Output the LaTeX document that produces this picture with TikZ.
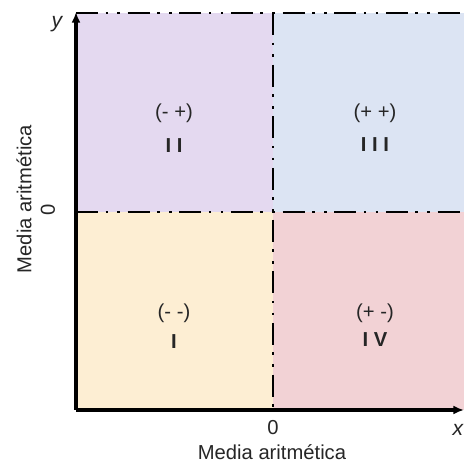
\documentclass[tikz,border=0pt]{standalone}
\usepackage{fontspec}
\setmainfont{Liberation Sans}
\usetikzlibrary{arrows.meta}
\definecolor{quadII}{RGB}{228,217,240}
\definecolor{quadIII}{RGB}{220,228,243}
\definecolor{quadI}{RGB}{253,238,211}
\definecolor{quadIV}{RGB}{242,210,213}
\tikzset{
  axis/.style={line width=1.9pt, -{Latex[length=6pt,width=5pt]}},
  divider/.style={line width=1.7pt, dash pattern=on 12.5pt off 4.3pt on 1.5pt off 5.3pt on 1.5pt off 4.3pt},
  sign/.style={font=\fontsize{11.5}{13}\selectfont, text=black!85},
  roman/.style={font=\fontsize{11.5}{13}\selectfont\bfseries, text=black!85},
  axislabel/.style={font=\fontsize{11.5}{13}\selectfont, text=black!85},
  varlabel/.style={font=\fontsize{12}{14}\selectfont\itshape, text=black!85}
}
\begin{document}
\begin{tikzpicture}[x=0.02cm,y=0.02cm]
\path[use as bounding box] (0,0) rectangle (464,467);
\fill[white] (0,0) rectangle (464,467);

\coordinate (origin) at (76,57);
\coordinate (ytop) at (76,455);
\coordinate (xend) at (464,57);
\coordinate (midleft) at (76,255);
\coordinate (midright) at (464,255);
\coordinate (center) at (273,255);
\coordinate (topleft) at (76,454);
\coordinate (topmid) at (273,454);
\coordinate (topright) at (464,454);
\coordinate (botmid) at (273,57);

\fill[quadII] (midleft) rectangle (topmid);
\fill[quadIII] (center) rectangle (topright);
\fill[quadI] (origin) rectangle (center);
\fill[quadIV] (botmid) rectangle (midright);

\draw[divider] (topleft) -- (topright);
\draw[divider] (midleft) -- (midright);
\draw[divider] (topmid) -- (botmid);

\draw[axis] (origin) -- (ytop);
\draw[axis] (origin) -- (xend);

\node[sign] (signII) at (174,354) {(- +)};
\node[roman] (numII) at (174,321) {I I};
\node[sign] (signIII) at (375,354) {(+ +)};
\node[roman] (numIII) at (375,322) {I I I};
\node[sign] (signI) at (174,154) {(- -)};
\node[roman] (numI) at (174,125) {I};
\node[sign] (signIV) at (375,154) {(+ -)};
\node[roman] (numIV) at (375,127) {I V};

\node[varlabel] (ylab) at (57,443) {y};
\node[varlabel] (xlab) at (458,37) {x};
\node[axislabel] (xzero) at (273,39) {0};
\node[axislabel] (xname) at (272,15) {Media aritmética};
\node[axislabel, rotate=90] (yzero) at (48,257) {0};
\node[axislabel, rotate=90] (yname) at (24,268) {Media aritmética};
\end{tikzpicture}
\end{document}
